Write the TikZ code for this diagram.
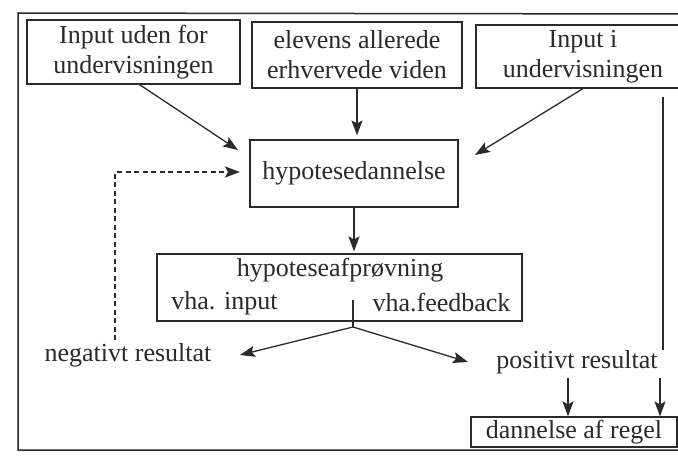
\documentclass[tikz,border=0pt]{standalone}
\usepackage{fontspec}
\setmainfont{Liberation Serif}
\usetikzlibrary{arrows.meta}
\definecolor{ink}{HTML}{2A2A2A}
\tikzset{
  box/.style={draw=ink, line width=1.2pt, inner sep=0pt, align=center, text=ink},
  lbl/.style={inner sep=0pt, text=ink},
  conn/.style={draw=ink, line width=1.3pt},
  arr/.style={conn, -{Stealth[length=15pt,width=11pt,inset=3pt]}},
  dsh/.style={conn, dash pattern=on 5pt off 3.5pt},
}
\begin{document}
\begin{tikzpicture}[x=1pt,y=1pt,font=\fontsize{26}{30}\selectfont]
\useasboundingbox (0,0) rectangle (678,459);
\fill[white] (0,0) rectangle (678,459);
% outer frame
\draw[conn, line width=1.5pt] (690,445) -- (18,446) -- (18,9) -- (690,9);
% boxes
\node[box, minimum width=213, minimum height=64] (b1) at (133.5,407) {Input uden for\\undervisningen};
\node[box, minimum width=210, minimum height=66] (b2) at (357,404) {elevens allerede\\erhvervede viden};
\node[box, minimum width=214, minimum height=63] (b3) at (583,402.5) {Input i\\undervisningen};
\node[box, minimum width=208, minimum height=67] (hyp) at (354,285.5) {hypotesedannelse};
\node[box, minimum width=365, minimum height=67] (afp) at (339.5,171.5) {};
\node[lbl] (afpt) at (340,189) {hypoteseafprøvning};
\node[lbl] (vin) at (224.5,156) {vha. input};
\node[lbl] (vfb) at (441.5,156) {vha.feedback};
\node[lbl] (neg) at (128,104) {negativt resultat};
\node[lbl] (pos) at (577,97) {positivt resultat};
\node[box, minimum width=206, minimum height=30] (regel) at (574,27) {dannelse af regel};
% coordinates
\coordinate (t1) at (238,309);
\coordinate (t3) at (475,304);
\coordinate (v1) at (663,362);
\coordinate (v2) at (663,109);
\coordinate (d1) at (115,119);
\coordinate (d2) at (115,287);
\coordinate (d3) at (240,287);
\coordinate (s1) at (353,159);
\coordinate (br) at (353,132);
\coordinate (ne) at (240,104);
\coordinate (pe) at (468,97);
\coordinate (p1) at (568,81);
\coordinate (p2) at (660,81);
% connectors
\draw[arr] ([xshift=6pt]b1.south) -- (t1);
\draw[arr, shorten >=4pt] (b2.south) -- (b2.south |- hyp.north);
\draw[arr] (b3.south) -- (t3);
\draw[conn] (v1) -- (v2);
\draw[dsh, -{Stealth[length=15pt,width=11pt,inset=3pt]}] (d1) -- (d2) -- (d3);
\draw[arr, shorten >=2pt] (hyp.south) -- (hyp.south |- afp.north);
\draw[conn] (s1) -- (br);
\draw[arr] (br) -- (ne);
\draw[arr] (br) -- (pe);
\draw[arr] (p1) -- (p1 |- regel.north);
\draw[arr] (p2) -- (p2 |- regel.north);
\end{tikzpicture}
\end{document}
